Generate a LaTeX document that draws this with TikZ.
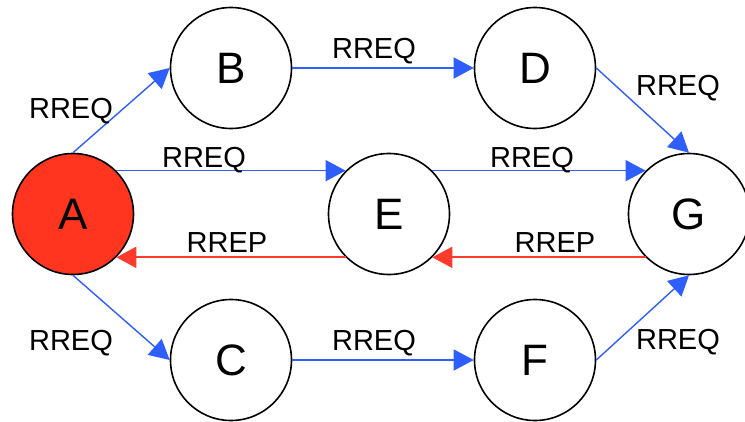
\documentclass[tikz,border=0pt]{standalone}
\usepackage{fontspec}
\setmainfont{Liberation Sans}
\usetikzlibrary{arrows.meta}
\definecolor{reqblue}{HTML}{2F5EFF}
\definecolor{repred}{HTML}{FF3B2B}
\definecolor{afill}{HTML}{FF3520}
\tikzset{
  station/.style={circle, draw=black, line width=1.6pt, minimum size=121pt, inner sep=0pt, font=\fontsize{44}{44}\selectfont},
  req/.style={color=reqblue, line width=1.4pt, -{Triangle[length=20pt, width=21pt]}},
  rep/.style={color=repred, line width=2pt, -{Triangle[length=20pt, width=21pt]}},
  lbl/.style={anchor=base, inner sep=0pt, font=\fontsize{29}{29}\selectfont}
}
\begin{document}
\begin{tikzpicture}[x=1pt, y=-1pt]
\useasboundingbox (0,0) rectangle (745,421);
\node[station, fill=afill] (A) at (73,214) {A};
\node[station] (B) at (231,68) {B};
\node[station] (C) at (231,360) {C};
\node[station] (D) at (535,68) {D};
\node[station] (E) at (389,214) {E};
\node[station] (F) at (535,360) {F};
\node[station] (G) at (689,214) {G};

\draw[req] (A.north) -- (B.west);
\draw[req] (A.south) -- (C.west);
\draw[req] (A.45) -- (E.135);
\draw[rep] (E.-135) -- (A.-45);
\draw[req] (B.east) -- (D.west);
\draw[req] (C.east) -- (F.west);
\draw[req] (E.45) -- (G.135);
\draw[rep] (G.-135) -- (E.-45);
\draw[req] (D.east) -- (G.north);
\draw[req] (F.east) -- (G.south);

\node[lbl] (lAB) at (71,118) {RREQ};
\node[lbl] (lAC) at (71,350) {RREQ};
\node[lbl] (lAE) at (204,167) {RREQ};
\node[lbl] (lEA) at (227,252) {RREP};
\node[lbl] (lBD) at (374,58) {RREQ};
\node[lbl] (lCF) at (374,350) {RREQ};
\node[lbl] (lEG) at (532,167) {RREQ};
\node[lbl] (lGE) at (555,252) {RREP};
\node[lbl] (lDG) at (678,95) {RREQ};
\node[lbl] (lFG) at (678,349) {RREQ};
\end{tikzpicture}
\end{document}
